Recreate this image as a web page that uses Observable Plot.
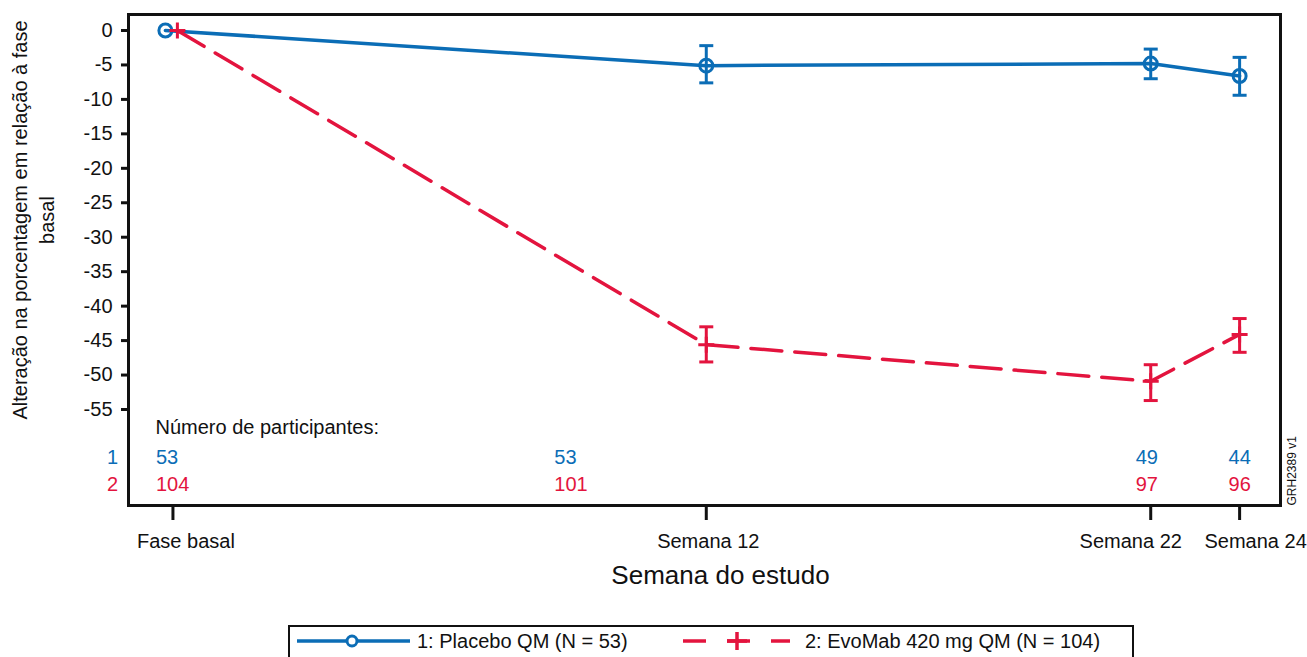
<!DOCTYPE html>
<html>
<head>
<meta charset="utf-8">
<script src="https://cdn.jsdelivr.net/npm/d3@7"></script>
<script src="https://cdn.jsdelivr.net/npm/@observablehq/plot@0.6"></script>
<style>
  html, body { margin: 0; padding: 0; background: #fff; }
  body { width: 1307px; height: 657px; overflow: hidden; position: relative;
         font-family: "Liberation Sans", Arial, sans-serif; }
  #chart { position: absolute; left: 0; top: 0; }
  #legend { position: absolute; left: 288px; top: 625px; width: 846px; height: 46px;
            border: 2px solid #111; box-sizing: border-box; background: #fff; }
  #legend svg { position: absolute; left: -2px; top: -2px; overflow: visible; }
  #legend text { font-family: "Liberation Sans", Arial, sans-serif; font-size: 20px; fill: #111; }
</style>
</head>
<body>
<div id="chart"></div>
<div id="legend"></div>
<script>
// ---- data ----
const weeks = [0, 12, 22, 24];
const weekLabels = ["Fase basal", "Semana 12", "Semana 22", "Semana 24"];
const groups = ["1", "2"];
const groupNames = ["1: Placebo QM (N = 53)", "2: EvoMab 420 mg QM (N = 104)"];
const placeboMean = [0, -5.1, -4.8, -6.6];
const placeboLow  = [null, -7.6, -7.0, -9.4];
const placeboHigh = [null, -2.2, -2.7, -3.9];
const evoMean = [0, -45.6, -50.9, -44.1];
const evoLow  = [null, -48.1, -53.7, -46.7];
const evoHigh = [null, -43.0, -48.5, -41.8];
const placeboN = [53, 53, 49, 44];
const evoN = [104, 101, 97, 96];
const yTicks = d3.range(0, -56, -5);

const blue = "#0b6db6";
const red = "#e3143e";
const ink = "#111";

const placebo = weeks.map((w, i) => ({week: w, mean: placeboMean[i], low: placeboLow[i], high: placeboHigh[i], n: placeboN[i]}));
const evo = weeks.map((w, i) => ({week: w, mean: evoMean[i], low: evoLow[i], high: evoHigh[i], n: evoN[i]}));

// small baseline dodge so the two markers do not overlap
const xPlacebo = d => d.week + (d.week === 0 ? -0.17 : 0);
const xEvo = d => d.week + (d.week === 0 ? 0.1 : 0);

const hline = {draw(ctx, size) { const r = Math.sqrt(size / Math.PI); ctx.moveTo(-r, 0); ctx.lineTo(r, 0); }};
const plus = {draw(ctx, size) { const r = Math.sqrt(size / Math.PI); ctx.moveTo(-r, 0); ctx.lineTo(r, 0); ctx.moveTo(0, -r); ctx.lineTo(0, r); }};

const labelShift = [13, 2, -20, 16];
const countShift = [-17, -152, -15, -11];
const rowDy = [-42, -15];

const withErr = arr => arr.filter(d => d.low != null);

const countMarks = [];
[placebo, evo].forEach((series, g) => {
  series.forEach((d, i) => {
    countMarks.push(Plot.text([d], {
      x: "week", text: r => String(r.n), frameAnchor: "bottom", dy: rowDy[g], dx: countShift[i],
      textAnchor: "start", fill: g === 0 ? blue : red, fontSize: 20
    }));
  });
  countMarks.push(Plot.text([groups[g]], {
    text: t => t, frameAnchor: "bottom-left", dx: -16, dy: rowDy[g], textAnchor: "middle",
    fill: g === 0 ? blue : red, fontSize: 20
  }));
});

const chart = Plot.plot({
  width: 1307,
  height: 615,
  marginLeft: 128,
  marginRight: 27,
  marginTop: 14,
  marginBottom: 110,
  style: {fontSize: "20px", fontFamily: "'Liberation Sans', Arial, sans-serif", color: ink, background: "#fff"},
  x: {domain: [-1, 24.92]},
  y: {domain: [-68.93, 2.32]},
  marks: [
    Plot.axisY({ticks: yTicks, tickSize: 7, tickPadding: 9, strokeWidth: 3, tickFormat: d => String(d), label: null, fontSize: 20}),
    Plot.axisX({ticks: weeks, tickSize: 15, strokeWidth: 3, tickFormat: () => "", label: null}),
    ...weeks.map((w, i) => Plot.axisX({ticks: [w], tickSize: 0, tickPadding: 28, tickFormat: () => weekLabels[i], dx: labelShift[i], label: null, fontSize: 20})),
    // series lines
    Plot.line(placebo, {x: xPlacebo, y: "mean", stroke: blue, strokeWidth: 3.5}),
    Plot.line(evo, {x: xEvo, y: "mean", stroke: red, strokeWidth: 3.5, strokeDasharray: "31,13"}),
    // error bars
    Plot.ruleX(withErr(placebo), {x: xPlacebo, y1: "low", y2: "high", stroke: blue, strokeWidth: 3}),
    Plot.dot(withErr(placebo), {x: xPlacebo, y: "low", symbol: hline, r: 7, stroke: blue, strokeWidth: 3, fill: "none"}),
    Plot.dot(withErr(placebo), {x: xPlacebo, y: "high", symbol: hline, r: 7, stroke: blue, strokeWidth: 3, fill: "none"}),
    Plot.ruleX(withErr(evo), {x: xEvo, y1: "low", y2: "high", stroke: red, strokeWidth: 3}),
    Plot.dot(withErr(evo), {x: xEvo, y: "low", symbol: hline, r: 7, stroke: red, strokeWidth: 3, fill: "none"}),
    Plot.dot(withErr(evo), {x: xEvo, y: "high", symbol: hline, r: 7, stroke: red, strokeWidth: 3, fill: "none"}),
    // markers
    Plot.dot(placebo, {x: xPlacebo, y: "mean", r: 6.5, stroke: blue, strokeWidth: 3, fill: "none"}),
    Plot.dot(evo, {x: xEvo, y: "mean", symbol: plus, r: 8, stroke: red, strokeWidth: 3, fill: "none"}),
    // participants table
    Plot.text(["Número de participantes:"], {text: d => d, frameAnchor: "bottom-left", dx: 27, dy: -72, textAnchor: "start", fill: ink, fontSize: 20}),
    ...countMarks,
    // frame
    Plot.frame({stroke: ink, strokeWidth: 3}),
    // axis titles and id
    Plot.text(["Alteração na porcentagem em relação à fase\nbasal"], {text: d => d, frameAnchor: "left", textAnchor: "middle", lineAnchor: "middle", rotate: -90, dx: -97, dy: -40, lineHeight: 1.35, fontSize: 20, fill: ink}),
    Plot.text(["Semana do estudo"], {text: d => d, frameAnchor: "bottom", textAnchor: "middle", dx: 16, dy: 78, fontSize: 26, fill: ink}),
    Plot.text(["GRH2389 v1"], {text: d => d, frameAnchor: "bottom-right", rotate: -90, textAnchor: "start", dx: 15, dy: 0, fontSize: 12, fill: ink})
  ]
});
document.getElementById("chart").appendChild(chart);

// ---- legend ----
const lg = d3.select("#legend").append("svg").attr("width", 846).attr("height", 46);
const ly = 16; // vertical centre inside legend
// placebo swatch
lg.append("line").attr("x1", 9).attr("x2", 122).attr("y1", ly).attr("y2", ly).attr("stroke", blue).attr("stroke-width", 3.5);
lg.append("circle").attr("cx", 64).attr("cy", ly).attr("r", 5).attr("fill", "#fff").attr("stroke", blue).attr("stroke-width", 3);
lg.append("text").attr("x", 129).attr("y", ly).attr("dy", "0.36em").text(groupNames[0]);
// evomab swatch
lg.append("line").attr("x1", 395).attr("x2", 502).attr("y1", ly).attr("y2", ly).attr("stroke", red).attr("stroke-width", 3.5).attr("stroke-dasharray", "23,21,23,21,23");
lg.append("path").attr("d", `M${449 - 10},${ly}H${449 + 10}M449,${ly - 9}V${ly + 9}`).attr("stroke", red).attr("stroke-width", 3.5).attr("fill", "none");
lg.append("text").attr("x", 517).attr("y", ly).attr("dy", "0.36em").text(groupNames[1]);
</script>
</body>
</html>
